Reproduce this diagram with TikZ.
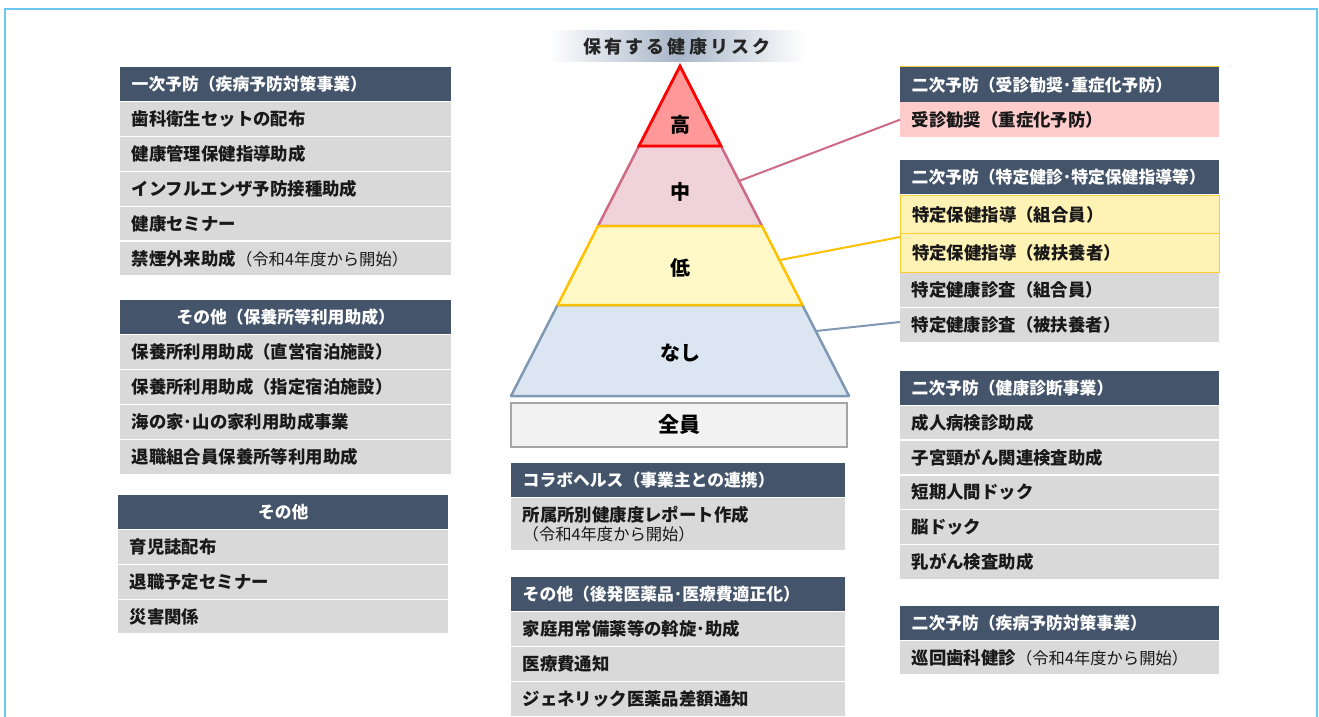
\documentclass[tikz,border=0pt]{standalone}
\usepackage{fontspec}
\setmainfont{Noto Sans CJK JP}
\definecolor{hdrc}{HTML}{44546A}
\definecolor{rowc}{HTML}{D9D9D9}
\definecolor{pinkrow}{HTML}{FFCCCC}
\definecolor{yelrow}{HTML}{FFF2B5}
\definecolor{yelline}{HTML}{FFCC33}
\definecolor{framec}{HTML}{6EC6F2}
\definecolor{hiF}{HTML}{FF9999}
\definecolor{hiL}{HTML}{FF0000}
\definecolor{midF}{HTML}{F0D2DA}
\definecolor{midL}{HTML}{CF6A86}
\definecolor{lowF}{HTML}{FFF9C8}
\definecolor{lowL}{HTML}{FFC000}
\definecolor{noF}{HTML}{DCE6F2}
\definecolor{noL}{HTML}{7F98B3}
\definecolor{allL}{HTML}{A6A6A6}
\definecolor{allF}{HTML}{F2F2F2}
\definecolor{titc}{HTML}{A8B6C8}
\newcommand\notef{\fontsize{16.3}{19}\selectfont\mdseries}
\tikzset{
  base/.style={anchor=north west, inner xsep=11.5pt, inner ysep=0pt, align=left},
  hdr/.style={base, fill=hdrc, text=white, font=\fontsize{16.8}{19}\selectfont\bfseries},
  item/.style={base, fill=rowc, text=black!90, font=\fontsize{17.4}{20}\selectfont\bfseries},
  pinkitem/.style={item, fill=pinkrow},
  yelitem/.style={item, fill=yelrow, draw=yelline, line width=1.3pt},
  colL/.style={text width=308pt},
  colLb/.style={text width=307pt},
  colM/.style={text width=311pt},
  colR/.style={text width=296pt},
  plabel/.style={font=\fontsize{20}{24}\selectfont\bfseries, text=black},
  conn/.style={line width=2pt},
}
\newcommand\bx[6]{\node[#2, minimum height=#5pt] (#1) at (#3,#4) {#6};}
\begin{document}
\begin{tikzpicture}[x=1pt,y=-1pt]
\useasboundingbox (0,0) rectangle (1319,717);
% frame
\draw[framec, line width=1.5pt] (5,720) -- (5,9) -- (1317,9) -- (1317,720);

% ---------- left column ----------
\bx{l1h}{hdr,colL}{120}{67}{34}{一次予防（疾病予防対策事業）}
\bx{l1a}{item,colL}{120}{102}{33.5}{歯科衛生セットの配布}
\bx{l1b}{item,colL}{120}{137}{33.5}{健康管理保健指導助成}
\bx{l1c}{item,colL}{120}{172}{33.5}{インフルエンザ予防接種助成}
\bx{l1d}{item,colL}{120}{206.5}{33.5}{健康セミナー}
\bx{l1e}{item,colL}{120}{241.5}{33.5}{禁煙外来助成{\notef （令和4年度から開始）}}

\bx{l2h}{hdr,colL,align=center}{120}{299.5}{34}{その他（保養所等利用助成）}
\bx{l2a}{item,colL}{120}{335}{33.5}{保養所利用助成（直営宿泊施設）}
\bx{l2b}{item,colL}{120}{370}{33.5}{保養所利用助成（指定宿泊施設）}
\bx{l2c}{item,colL}{120}{405}{33.5}{海の家･山の家利用助成事業}
\bx{l2d}{item,colL}{120}{440}{33.5}{退職組合員保養所等利用助成}

\bx{l3h}{hdr,colLb,align=center}{118}{495}{33.5}{その他}
\bx{l3a}{item,colLb}{118}{530}{33.5}{育児誌配布}
\bx{l3b}{item,colLb}{118}{565}{33.5}{退職予定セミナー}
\bx{l3c}{item,colLb}{118}{599.5}{33.5}{災害関係}

% ---------- title ----------
\node[left color=white, right color=white, middle color=titc, minimum width=257pt, minimum height=31pt, inner sep=0pt,
      font=\fontsize{18}{20}\selectfont\bfseries\addfontfeature{LetterSpace=18}, text=black!85] (title) at (677,46.5) {保有する健康リスク};

% ---------- pyramid ----------
\fill[noF] (557.6,305) -- (802.4,305) -- (849,396) -- (511,396) -- cycle;
\draw[noL, line width=2.5pt, line join=round] (557.6,305) -- (802.4,305) -- (849,396) -- (511,396) -- cycle;
\fill[midF] (639,146) -- (721,146) -- (762,226) -- (598,226) -- cycle;
\draw[midL, line width=2.5pt, line join=round] (639,146) -- (721,146) -- (762,226) -- (598,226) -- cycle;
\fill[lowF] (598,226) -- (762,226) -- (802.4,305) -- (557.6,305) -- cycle;
\draw[lowL, line width=2.5pt, line join=round] (598,226) -- (762,226) -- (802.4,305) -- (557.6,305) -- cycle;
\fill[hiF] (680,66) -- (721,146) -- (639,146) -- cycle;
\draw[hiL, line width=2.8pt, line join=miter] (680,66) -- (721,146) -- (639,146) -- cycle;

\node[plabel] (phi) at (680,125) {高};
\node[plabel] (pmid) at (680,192) {中};
\node[plabel] (plow) at (680,268) {低};
\node[plabel] (pno) at (680,353) {なし};

\node[draw=allL, fill=allF, line width=2pt, minimum width=336pt, minimum height=44pt, inner sep=0pt,
      font=\fontsize{21}{24}\selectfont\bfseries] (all) at (679,424.5) {全員};

% ---------- middle column ----------
\bx{m1h}{hdr,colM}{511}{462.5}{34}{コラボヘルス（事業主との連携）}
\bx{m1a}{item,colM}{511}{497.5}{52}{所属所別健康度レポート作成\\[-1pt]{\notef （令和4年度から開始）}}
\bx{m2h}{hdr,colM}{511}{576.5}{34}{その他（後発医薬品･医療費適正化）}
\bx{m2a}{item,colM}{511}{612}{33.5}{家庭用常備薬等の斡旋･助成}
\bx{m2b}{item,colM}{511}{647}{33.5}{医療費通知}
\bx{m2c}{item,colM}{511}{682}{33.5}{ジェネリック医薬品差額通知}

% ---------- right column ----------
\bx{r1h}{hdr,colR}{900}{67}{35}{二次予防（受診勧奨･重症化予防）}
\draw[yelline, line width=1pt] (r1h.north west) -- (r1h.north east);
\bx{r1a}{pinkitem,colR}{900}{102}{35}{受診勧奨（重症化予防）}

\bx{r2h}{hdr,colR}{900}{160}{34}{二次予防（特定健診･特定保健指導等）}
\bx{r2a}{yelitem,colR}{900}{194.5}{38.5}{特定保健指導（組合員）}
\bx{r2b}{yelitem,colR}{900}{233}{38.5}{特定保健指導（被扶養者）}
\bx{r2c}{item,colR}{900}{273}{33.5}{特定健康診査（組合員）}
\bx{r2d}{item,colR}{900}{308}{33.5}{特定健康診査（被扶養者）}

\bx{r3h}{hdr,colR}{900}{371}{33.5}{二次予防（健康診断事業）}
\bx{r3a}{item,colR}{900}{405.5}{33.5}{成人病検診助成}
\bx{r3b}{item,colR}{900}{440.5}{33.5}{子宮頸がん関連検査助成}
\bx{r3c}{item,colR}{900}{475.5}{33.5}{短期人間ドック}
\bx{r3d}{item,colR}{900}{510}{33.5}{脳ドック}
\bx{r3e}{item,colR}{900}{545}{33.5}{乳がん検査助成}

\bx{r4h}{hdr,colR}{900}{606}{33.5}{二次予防（疾病予防対策事業）}
\bx{r4a}{item,colR}{900}{640.5}{33.5}{巡回歯科健診{\notef （令和4年度から開始）}}

% ---------- connectors ----------
\coordinate (cmid) at (739,181);
\coordinate (clow) at (780,260);
\coordinate (cno) at (816,331);
\coordinate (ylend) at (900,237);
\coordinate (blend) at (900,322);
\draw[conn, midL] (cmid) -- (r1a.west);
\draw[conn, lowL] (clow) -- (ylend);
\draw[conn, noL] (cno) -- (blend);
\end{tikzpicture}
\end{document}
